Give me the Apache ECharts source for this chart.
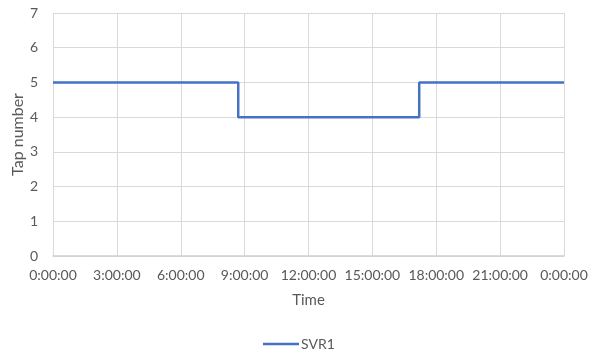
<!DOCTYPE html>
<html>
<head>
<meta charset="utf-8">
<script src="https://cdn.jsdelivr.net/npm/echarts@6/dist/echarts.min.js"></script>
<style>html,body{margin:0;padding:0;background:#fff}#c{width:590px;height:358px}</style>
</head>
<body>
<div id="c"></div>
<script>
// time in minutes from midnight, tap values
const seriesName = 'SVR1';
const timeMinutes = [0, 522, 522, 1032, 1032, 1440];
const tapValues = [5, 5, 4, 4, 5, 5];
const xTickStepMinutes = 180;
const yTicks = [0, 1, 2, 3, 4, 5, 6, 7];

const data = timeMinutes.map((t, i) => [t, tapValues[i]]);
const font = 'Lato, "Open Sans", sans-serif';
const chart = echarts.init(document.getElementById('c'), null, {renderer: 'canvas'});
chart.setOption({
  animation: false,
  grid: {left: 53, right: 26, top: 13, bottom: 102, containLabel: false, outerBoundsMode: 'none'},
  xAxis: {
    type: 'value', min: 0, max: 1440, interval: xTickStepMinutes,
    name: 'Time', nameLocation: 'middle', nameGap: 37, nameMoveOverlap: false,
    nameTextStyle: {color: '#595959', fontSize: 15, fontFamily: font},
    axisLine: {show: true, lineStyle: {color: '#cfcfcf', width: 1.5}},
    axisTick: {show: false},
    splitLine: {show: true, lineStyle: {color: '#d9d9d9', width: 1}},
    axisLabel: {
      color: '#595959', fontSize: 14, fontFamily: font, margin: 12,
      formatter: v => ((v / 60) % 24) + ':00:00'
    }
  },
  yAxis: {
    type: 'value', min: yTicks[0], max: yTicks[yTicks.length - 1], interval: 1,
    name: 'Tap number', nameLocation: 'middle', nameGap: 27, nameRotate: 90, nameMoveOverlap: false,
    nameTextStyle: {color: '#595959', fontSize: 16, fontFamily: font},
    axisLine: {show: false},
    axisTick: {show: false},
    splitLine: {show: true, lineStyle: {color: '#d9d9d9', width: 1}},
    axisLabel: {color: '#595959', fontSize: 14, fontFamily: font, margin: 15}
  },
  legend: {
    show: true, bottom: 2, left: 258,
    itemWidth: 36, itemHeight: 14, itemGap: 10,
    textStyle: {color: '#595959', fontSize: 14, fontFamily: font, padding: [0, 0, 0, -3]},
    data: [{name: seriesName, icon: 'path://M0,6 L36,6 L36,8.5 L0,8.5 Z'}]
  },
  series: [{
    name: seriesName, type: 'line', data: data,
    symbol: 'none', lineStyle: {color: '#4472C4', width: 2.5},
    itemStyle: {color: '#4472C4'}
  }]
});
</script>
</body>
</html>
